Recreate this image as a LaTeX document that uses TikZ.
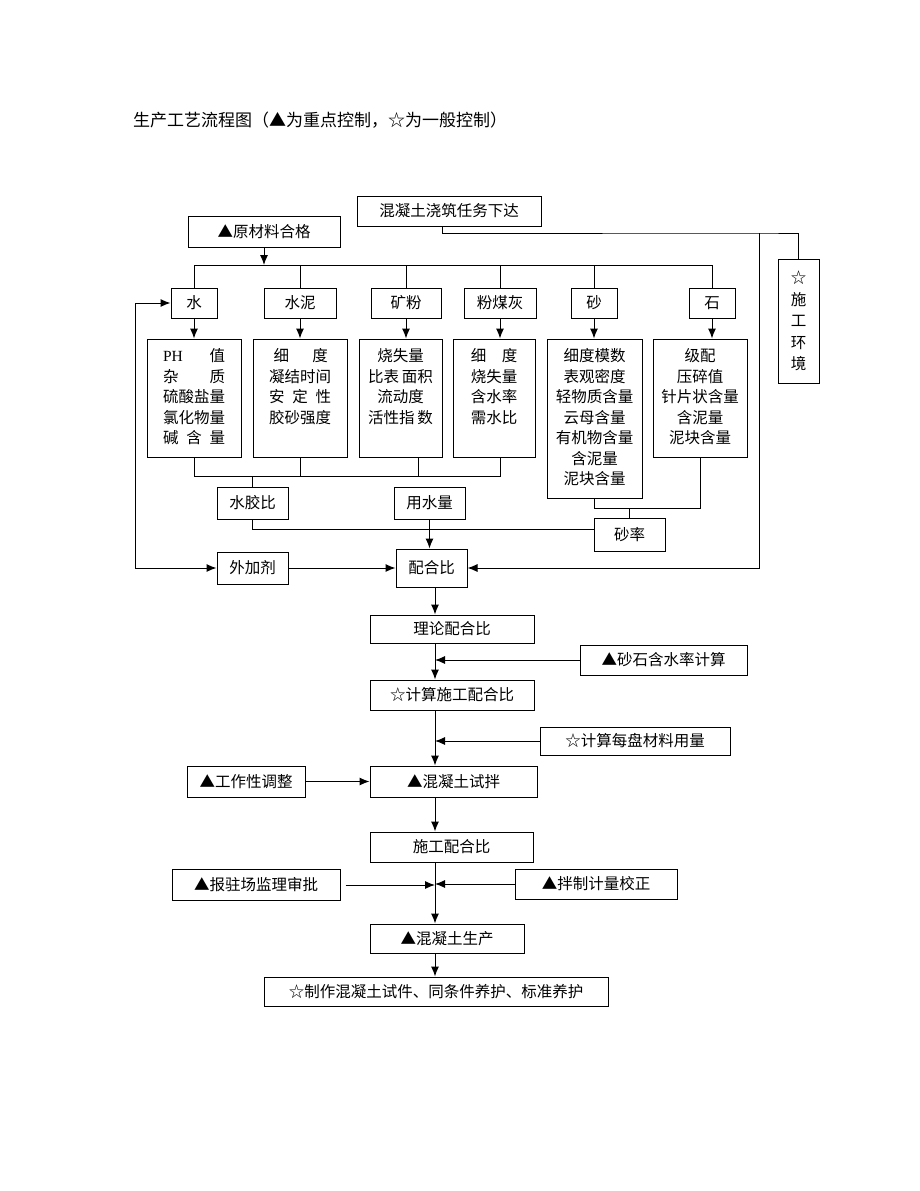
\documentclass[tikz,border=0pt]{standalone}
\usepackage{fontspec}
\setmainfont{Noto Sans CJK SC}
\newfontfamily\lat{Liberation Serif}
\usetikzlibrary{arrows.meta}
\begin{document}
\begin{tikzpicture}[x=1pt,y=-1pt,
  bx/.style={draw, line width=1pt, inner sep=0pt, font=\fontsize{15.5}{20.5}\selectfont, align=center},
  txt/.style={inner sep=0pt, font=\fontsize{15.5}{20.5}\selectfont, align=center},
  ln/.style={line width=1pt},
  arr/.style={line width=1pt, -{Latex[length=10pt,width=8pt]}}]
\useasboundingbox (0,0) rectangle (920,1191);
\fill[white] (0,0) rectangle (920,1191);

\node[anchor=west, inner sep=0pt, font=\fontsize{17}{20}\selectfont] (title) at (133,120) {生产工艺流程图（▲为重点控制，☆为一般控制）};

% top
\node[bx, minimum width=184, minimum height=30] (T1) at (449,211) {混凝土浇筑任务下达};
\node[bx, minimum width=152, minimum height=31] (T2) at (264,231.5) {▲原材料合格};
\node[bx, minimum width=41, minimum height=124, font=\fontsize{15.5}{21.5}\selectfont] (env) at (798.5,321) {☆\\施\\工\\环\\境};

% materials
\node[bx, minimum width=46, minimum height=30] (w) at (194,303) {水};
\node[bx, minimum width=72, minimum height=30] (c) at (300,303) {水泥};
\node[bx, minimum width=70, minimum height=30] (kf) at (406,303) {矿粉};
\node[bx, minimum width=72, minimum height=30] (fm) at (500,303) {粉煤灰};
\node[bx, minimum width=46, minimum height=30] (sa) at (594,303) {砂};
\node[bx, minimum width=46, minimum height=30] (st) at (712,303) {石};

% detail boxes
\node[bx, minimum width=94, minimum height=118] (dw) at (194,398) {};
\node[bx, minimum width=94, minimum height=118] (dc) at (300,398) {};
\node[bx, minimum width=83, minimum height=118] (dk) at (400.5,398) {};
\node[bx, minimum width=82, minimum height=118] (df) at (494,398) {};
\node[bx, minimum width=95, minimum height=159] (ds) at (594.5,418.5) {};
\node[bx, minimum width=94, minimum height=118] (dst) at (700,398) {};

\node[txt] (dwt) at (194,397) {\hbox to 4em{{\lat PH}\hfill 值}\\\hbox to 4em{杂\hfill 质}\\硫酸盐量\\氯化物量\\\hbox to 4em{碱\hfill 含\hfill 量}};
\node[txt] (dct) at (300,386.75) {\hbox to 4em{\hspace{0.3em}细\hfill 度\hspace{0.2em}}\\凝结时间\\\hbox to 4em{安\hfill 定\hfill 性}\\胶砂强度};
\node[txt] (dkt) at (400.5,386.75) {烧失量\\比表\,面积\\流动度\\活性指\,数};
\node[txt] (dft) at (494,386.75) {\hbox to 3em{细\hfill 度}\\烧失量\\含水率\\需水比};
\node[txt] (dst1) at (594.5,417.5) {细度模数\\表观密度\\轻物质含量\\云母含量\\有机物含量\\含泥量\\泥块含量};
\node[txt] (dstt) at (700,397) {级配\\压碎值\\针片状含量\\含泥量\\泥块含量};

% ratios
\node[bx, minimum width=71, minimum height=32] (sj) at (252.5,503) {水胶比};
\node[bx, minimum width=71, minimum height=32] (ys) at (429.5,503) {用水量};
\node[bx, minimum width=71, minimum height=33] (sl) at (629.5,534.5) {砂率};
\node[bx, minimum width=71, minimum height=32] (wj) at (252.5,568) {外加剂};
\node[bx, minimum width=71, minimum height=38] (ph) at (431.5,568) {配合比};

% chain
\node[bx, minimum width=164, minimum height=28] (llhb) at (452,629) {理论配合比};
\node[bx, minimum width=167, minimum height=30] (hs) at (663.5,660) {▲砂石含水率计算};
\node[bx, minimum width=164, minimum height=30] (jsb) at (452,695) {☆计算施工配合比};
\node[bx, minimum width=190, minimum height=28] (mp) at (635,741) {☆计算每盘材料用量};
\node[bx, minimum width=167, minimum height=31] (sb) at (453.5,781.5) {▲混凝土试拌};
\node[bx, minimum width=118, minimum height=31] (gz) at (246,781.5) {▲工作性调整};
\node[bx, minimum width=163, minimum height=30] (sgb) at (451.5,847) {施工配合比};
\node[bx, minimum width=168, minimum height=31] (bz) at (256,885) {▲报驻场监理审批};
\node[bx, minimum width=162, minimum height=30] (bj) at (596,884) {▲拌制计量校正};
\node[bx, minimum width=154, minimum height=29] (sc) at (447,938.5) {▲混凝土生产};
\node[bx, minimum width=344, minimum height=29] (zz) at (436,991.5) {☆制作混凝土试件、同条件养护、标准养护};

% coordinates
\coordinate (dl) at (0,265);
\coordinate (rt) at (759,233);
\coordinate (jr) at (500,476);
\coordinate (lc) at (135,568);
\coordinate (ax) at (435,0);

% connectors top
\draw[ln] ([xshift=-7pt]T1.south) |- (rt) -| (env.north);
\draw[arr] (rt) |- (ph.east);
\draw[arr] (T2.south) -- (T2.south |- dl);
\draw[ln] (w.north) -- (w.north |- dl) -| (st.north);
\foreach \n in {c,kf,fm,sa} \draw[ln] (\n.north) -- (\n.north |- dl);

\draw[arr] (w.south) -- (dw.north);
\draw[arr] (c.south) -- (dc.north);
\draw[arr] (kf.south) -- (kf.south |- dk.north);
\draw[arr] (fm.south) -- (fm.south |- df.north);
\draw[arr] (sa.south) -- (sa.south |- ds.north);
\draw[arr] (st.south) -- (st.south |- dst.north);

% joins
\draw[ln] (dw.south) |- (jr) -- (jr |- df.south);
\draw[ln] (dc.south) -- (dc.south |- jr);
\draw[ln] ([xshift=17.5pt]dk.south) -- ++(0,19);
\draw[ln] (sj.north) -- (sj.north |- jr);
\draw[ln] (sj.south) |- ([yshift=5.5pt]sl.west);
\draw[ln] (ds.south) -- ++(0,10) -| (dst.south);
\draw[ln] (sl.north) -- ++(0,-10);
\draw[arr] (ys.south) -- (ys.south |- ph.north);

\draw[arr] (lc) |- (w.west);
\draw[arr] (lc) -- (wj.west);
\draw[arr] (wj.east) -- (wj.east -| ph.west);

% chain arrows
\draw[arr] (ph.south -| ax) -- (llhb.north -| ax);
\draw[arr] (llhb.south -| ax) -- (jsb.north -| ax);
\draw[arr] (jsb.south -| ax) -- (sb.north -| ax);
\draw[arr] (sb.south -| ax) -- (sgb.north -| ax);
\draw[arr] (sgb.south -| ax) -- (sc.north -| ax);
\draw[arr] (sc.south -| ax) -- (zz.north -| ax);
\draw[arr] (hs.west) -- (hs.west -| ax);
\draw[arr] (mp.west) -- (mp.west -| ax);
\draw[arr] (gz.east) -- (sb.west);
\draw[arr] ([xshift=5pt]bz.east) -- (bz.east -| ax);
\draw[arr] (bj.west) -- (bj.west -| ax);
\end{tikzpicture}
\end{document}
